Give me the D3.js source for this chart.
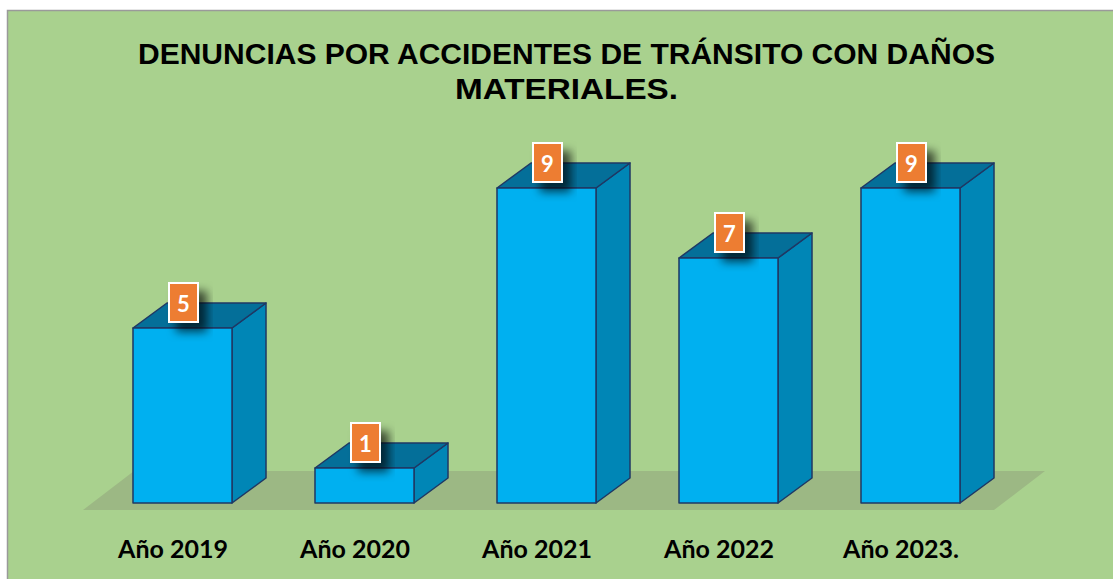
<!DOCTYPE html>
<html>
<head>
<meta charset="utf-8">
<script src="https://cdn.jsdelivr.net/npm/d3@7"></script>
<style>
  body { margin: 0; background: #fff; }
  svg { display: block; }
</style>
</head>
<body>
<svg id="chart" width="1113" height="579"></svg>
<script>
// data
var categories = ["Año 2019", "Año 2020", "Año 2021", "Año 2022", "Año 2023."];
var values = [5, 1, 9, 7, 9];
var titleLines = ["DENUNCIAS  POR ACCIDENTES DE TRÁNSITO CON DAÑOS", "MATERIALES."];

var svg = d3.select("#chart");

// chart area background + frame
svg.append("rect")
    .attr("x", 7.5).attr("y", 10.5)
    .attr("width", 1120).attr("height", 600)
    .attr("fill", "#a9d18e")
    .attr("stroke", "#9a9a9a")
    .attr("stroke-width", 1.5);

var defs = svg.append("defs");
var f = defs.append("filter").attr("id", "shadow")
    .attr("x", "-50%").attr("y", "-50%").attr("width", "200%").attr("height", "200%");
f.append("feDropShadow")
    .attr("dx", 8).attr("dy", 9)
    .attr("stdDeviation", 5)
    .attr("flood-color", "#000")
    .attr("flood-opacity", 0.65);

// title
svg.selectAll("text.title")
    .data(titleLines)
  .enter().append("text")
    .attr("class", "title")
    .attr("x", 566.5)
    .attr("y", function(d, i) { return i == 0 ? 64 : 99; })
    .attr("text-anchor", "middle")
    .attr("textLength", function(d, i) { return i == 0 ? 857 : 223; })
    .attr("lengthAdjust", "spacingAndGlyphs")
    .style("font-family", "'Liberation Sans', Arial, sans-serif")
    .style("font-weight", "bold")
    .style("font-size", "29px")
    .attr("fill", "#000")
    .text(function(d) { return d; });

var x = d3.scaleBand()
    .domain(categories)
    .range([91.5, 1001.5])
    .paddingInner(0.456)
    .paddingOuter(0.228);

var y = d3.scaleLinear()
    .domain([0, 9])
    .range([503, 188]);

var bw = x.bandwidth();
var dx = 34, dy = -25;
var y0 = y(0);
var r = x.range();

// floor
svg.append("polygon")
    .attr("points", [
      [r[0] - 8.5, y0 + 7],
      [r[1] - 7.5, y0 + 7],
      [r[1] + 43.5, y0 - 32],
      [r[0] + 42.5, y0 - 32]
    ].join(" "))
    .attr("fill", "#9cb884");

var data = categories.map(function(c, i) { return {cat: c, val: values[i]}; });

var bars = svg.selectAll("g.bar")
    .data(data)
  .enter().append("g")
    .attr("class", "bar")
    .attr("stroke", "#1f3864")
    .attr("stroke-width", 1.5)
    .attr("stroke-linejoin", "round");

bars.append("polygon")
    .attr("fill", "#0086b6")
    .attr("points", function(d) {
      var x1 = x(d.cat) + bw, yt = y(d.val);
      return [[x1, yt], [x1 + dx, yt + dy], [x1 + dx, y0 + dy], [x1, y0]].join(" ");
    });

bars.append("polygon")
    .attr("fill", "#046f99")
    .attr("points", function(d) {
      var x0 = x(d.cat), yt = y(d.val);
      return [[x0, yt], [x0 + dx, yt + dy], [x0 + bw + dx, yt + dy], [x0 + bw, yt]].join(" ");
    });

bars.append("rect")
    .attr("fill", "#00b0f0")
    .attr("x", function(d) { return x(d.cat); })
    .attr("y", function(d) { return y(d.val); })
    .attr("width", bw)
    .attr("height", function(d) { return y0 - y(d.val); });

// value labels
var labels = svg.selectAll("g.vlabel")
    .data(data)
  .enter().append("g")
    .attr("class", "vlabel");

labels.append("rect")
    .attr("x", function(d) { return x(d.cat) + bw / 2 + 1 - 14.5; })
    .attr("y", function(d) { return y(d.val) - 45; })
    .attr("width", 29)
    .attr("height", 39)
    .attr("fill", "#ed7d31")
    .attr("stroke", "#fff")
    .attr("stroke-width", 2)
    .attr("filter", "url(#shadow)");

labels.append("text")
    .attr("x", function(d) { return x(d.cat) + bw / 2 + 1; })
    .attr("y", function(d) { return y(d.val) - 16; })
    .attr("text-anchor", "middle")
    .style("font-family", "Lato, 'Open Sans', sans-serif")
    .style("font-weight", "bold")
    .style("font-size", "22px")
    .attr("fill", "#fff")
    .text(function(d) { return d.val; });

// category labels
svg.selectAll("text.cat")
    .data(categories)
  .enter().append("text")
    .attr("class", "cat")
    .attr("x", function(d) { return x(d) + bw / 2 - 9.5; })
    .attr("y", 558)
    .attr("text-anchor", "middle")
    .style("font-family", "Lato, 'Open Sans', sans-serif")
    .style("font-weight", "bold")
    .style("font-size", "25px")
    .attr("fill", "#000")
    .text(function(d) { return d; });
</script>
</body>
</html>
